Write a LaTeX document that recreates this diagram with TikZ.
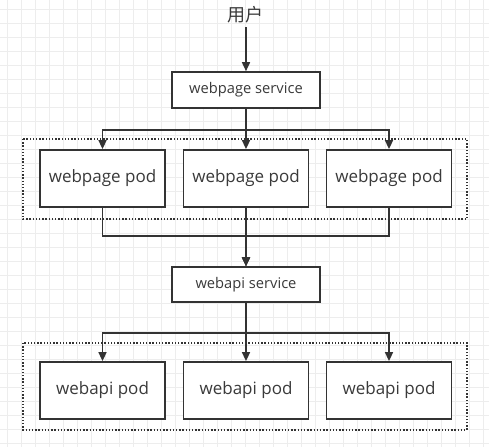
\documentclass[tikz,border=0pt]{standalone}
\usepackage{fontspec}
\setmainfont{Open Sans}
\newfontfamily\cjk{Noto Sans CJK SC}
\usetikzlibrary{arrows.meta}
\definecolor{ink}{HTML}{333333}
\definecolor{txt}{HTML}{3A3A3A}
\tikzset{
  podbox/.style={draw=ink, line width=1.8pt, fill=white, minimum width=125pt, minimum height=57pt, inner sep=0pt, text=txt, font=\fontsize{17}{20}\selectfont},
  svcbox/.style={draw=ink, line width=1.6pt, fill=white, minimum width=148pt, minimum height=36pt, inner sep=0pt, text=txt, font=\fontsize{14.7}{17}\selectfont},
  group/.style={draw=ink, line width=1.6pt, dash pattern=on 1.4pt off 1.8pt},
  conn/.style={draw=ink, line width=1.6pt, -{Triangle[length=9pt,width=8pt]}},
  gridline/.style={draw=gray!14, line width=0.6pt}
}
\begin{document}
\begin{tikzpicture}[x=1pt,y=-1pt]
\useasboundingbox (0,0) rectangle (489,447);
\fill[white] (0,0) rectangle (489,447);
% background grid
\foreach \gx in {7,21,...,489} {\draw[gridline] (\gx,0) -- (\gx,447);}
\foreach \gy in {9,23,...,447} {\draw[gridline] (0,\gy) -- (489,\gy);}
% groups
\draw[group] (23,139) rectangle (467,219);
\draw[group] (23,343) rectangle (467,430);
% nodes
\node[text=txt, font=\cjk\fontsize{18}{21}\selectfont] (user) at (245,15) {用户};
\node[svcbox] (wps) at (246,90) {webpage service};
\node[podbox] (p1) at (102.5,178.5) {webpage pod};
\node[podbox] (p2) at (246,178.5) {webpage pod};
\node[podbox] (p3) at (389,178.5) {webpage pod};
\node[svcbox, minimum height=35pt] (was) at (246,284.5) {webapi service};
\node[podbox] (a1) at (102.5,390.5) {webapi pod};
\node[podbox] (a2) at (246,390.5) {webapi pod};
\node[podbox] (a3) at (389,390.5) {webapi pod};
\coordinate (u) at (246,27);
% connectors
\draw[conn] (u) -- (wps.north);
\draw[conn] (wps.south) -- (p2.north);
\draw[conn] (wps.south) -- ++(0,21) -| (p1.north);
\draw[conn] (wps.south) -- ++(0,21) -| (p3.north);
\draw[conn] (p2.south) -- (was.north);
\draw[conn] (p1.south) |- ([yshift=30pt]was.north) -- (was.north);
\draw[conn] (p3.south) |- ([yshift=30pt]was.north) -- (was.north);
\draw[conn] (was.south) -- (a2.north);
\draw[conn] (was.south) -- ++(0,30) -| (a1.north);
\draw[conn] (was.south) -- ++(0,30) -| (a3.north);
\end{tikzpicture}
\end{document}
